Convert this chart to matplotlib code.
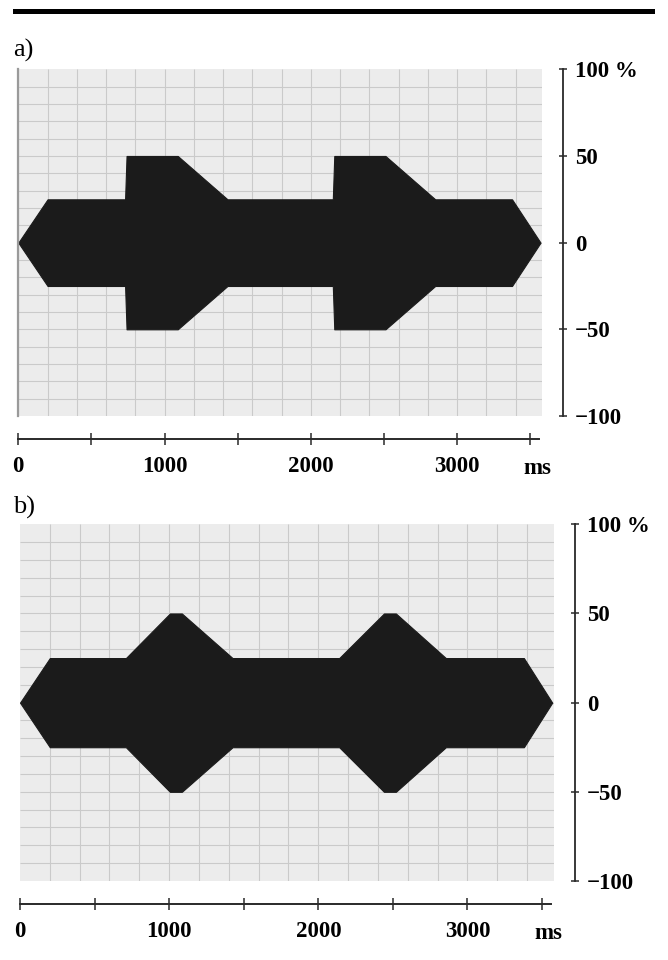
import matplotlib
matplotlib.use("Agg")
import matplotlib.pyplot as plt
from matplotlib.patches import Rectangle
import numpy as np

# panel a) - envelope of the stimulus (time in ms, amplitude in %)
time_a = [0, 200, 730, 740, 1090, 1430, 2150, 2160, 2510, 2850, 3375, 3570]
upper_a = [0, 25, 25, 50, 50, 25, 25, 50, 50, 25, 25, 0]
lower_a = [0, -25, -25, -50, -50, -25, -25, -50, -50, -25, -25, 0]

# panel b)
time_b = [0, 200, 710, 1005, 1085, 1425, 2140, 2440, 2520, 2855, 3378, 3568]
upper_b = [0, 25, 25, 50, 50, 25, 25, 50, 50, 25, 25, 0]
lower_b = [0, -25, -25, -50, -50, -25, -25, -50, -50, -25, -25, 0]

x_ticks = [0, 500, 1000, 1500, 2000, 2500, 3000, 3500]
x_labels = ["0", "", "1000", "", "2000", "", "3000", ""]
y_ticks = [100, 50, 0, -50, -100]
y_labels = ["100 %", "50", "0", "\u221250", "\u2212100"]
x_unit = "ms"
panel_labels = ["a)", "b)"]

W, H = 668, 960
fig = plt.figure(figsize=(W / 100, H / 100), dpi=100)

serif = ["Liberation Serif", "DejaVu Serif"]
shape_col = "#1b1b1b"
grid_col = "#cacaca"
axis_col = "#2a2a2a"
fs = 16.5


def px_axes(x0, x1, y0, y1):
    return fig.add_axes([x0 / W, 1 - y1 / H, (x1 - x0) / W, (y1 - y0) / H])


def draw_panel(ax, t, up, lo, dark_left):
    ax.set_xlim(0, 3580)
    ax.set_ylim(-100, 100)
    ax.set_facecolor("#ececec")
    ax.vlines(np.arange(200, 3580, 200), -100, 100, color=grid_col, lw=0.8, zorder=1)
    ax.hlines(np.arange(-90, 100, 10), 0, 3580, color=grid_col, lw=0.8, zorder=1)
    ax.fill_between(t, lo, up, color=shape_col, ec=shape_col, lw=0.8, zorder=2)

    ax.spines["top"].set_visible(False)
    if dark_left:
        ax.spines["left"].set_color("#9a9a9a")
        ax.spines["left"].set_linewidth(1.6)
    else:
        ax.spines["left"].set_visible(False)

    # x axis drawn below the plot area
    ax.spines["bottom"].set_position(("outward", 16.5))
    ax.spines["bottom"].set_bounds(0, 3560)
    ax.spines["bottom"].set_color(axis_col)
    ax.spines["bottom"].set_linewidth(1.4)
    ax.set_xticks(x_ticks)
    ax.set_xticklabels(x_labels, fontfamily=serif, fontweight="bold", fontsize=fs)
    ax.tick_params(axis="x", direction="inout", length=9, width=1.1, color=axis_col, pad=8)

    # y axis on the right
    ax.spines["right"].set_position(("outward", 15))
    ax.spines["right"].set_color(axis_col)
    ax.spines["right"].set_linewidth(1.3)
    ax.yaxis.tick_right()
    ax.set_yticks(y_ticks)
    ax.set_yticklabels(y_labels, fontfamily=serif, fontweight="bold", fontsize=fs)
    ax.tick_params(axis="y", direction="inout", length=6, width=1.1, color=axis_col, pad=5.5)

    ax.annotate(x_unit, xy=(3545, 0), xycoords=("data", "axes fraction"),
                xytext=(0, -38), textcoords="offset points", ha="center", va="center",
                fontfamily=serif, fontweight="bold", fontsize=fs)


ax_a = px_axes(18.3, 542, 69.3, 416)
draw_panel(ax_a, time_a, upper_a, lower_a, True)

ax_b = px_axes(20, 554, 524.3, 881)
draw_panel(ax_b, time_b, upper_b, lower_b, False)

fig.text(13 / W, 1 - 50 / H, panel_labels[0], ha="left", va="center", fontfamily=serif, fontsize=19)
fig.text(13 / W, 1 - 507 / H, panel_labels[1], ha="left", va="center", fontfamily=serif, fontsize=19)

# black rule at the top of the page
fig.add_artist(Rectangle((13 / W, 1 - 14 / H), (655 - 13) / W, 5 / H,
                         transform=fig.transFigure, color="black", lw=0))

fig.savefig("out.png", dpi=100)
